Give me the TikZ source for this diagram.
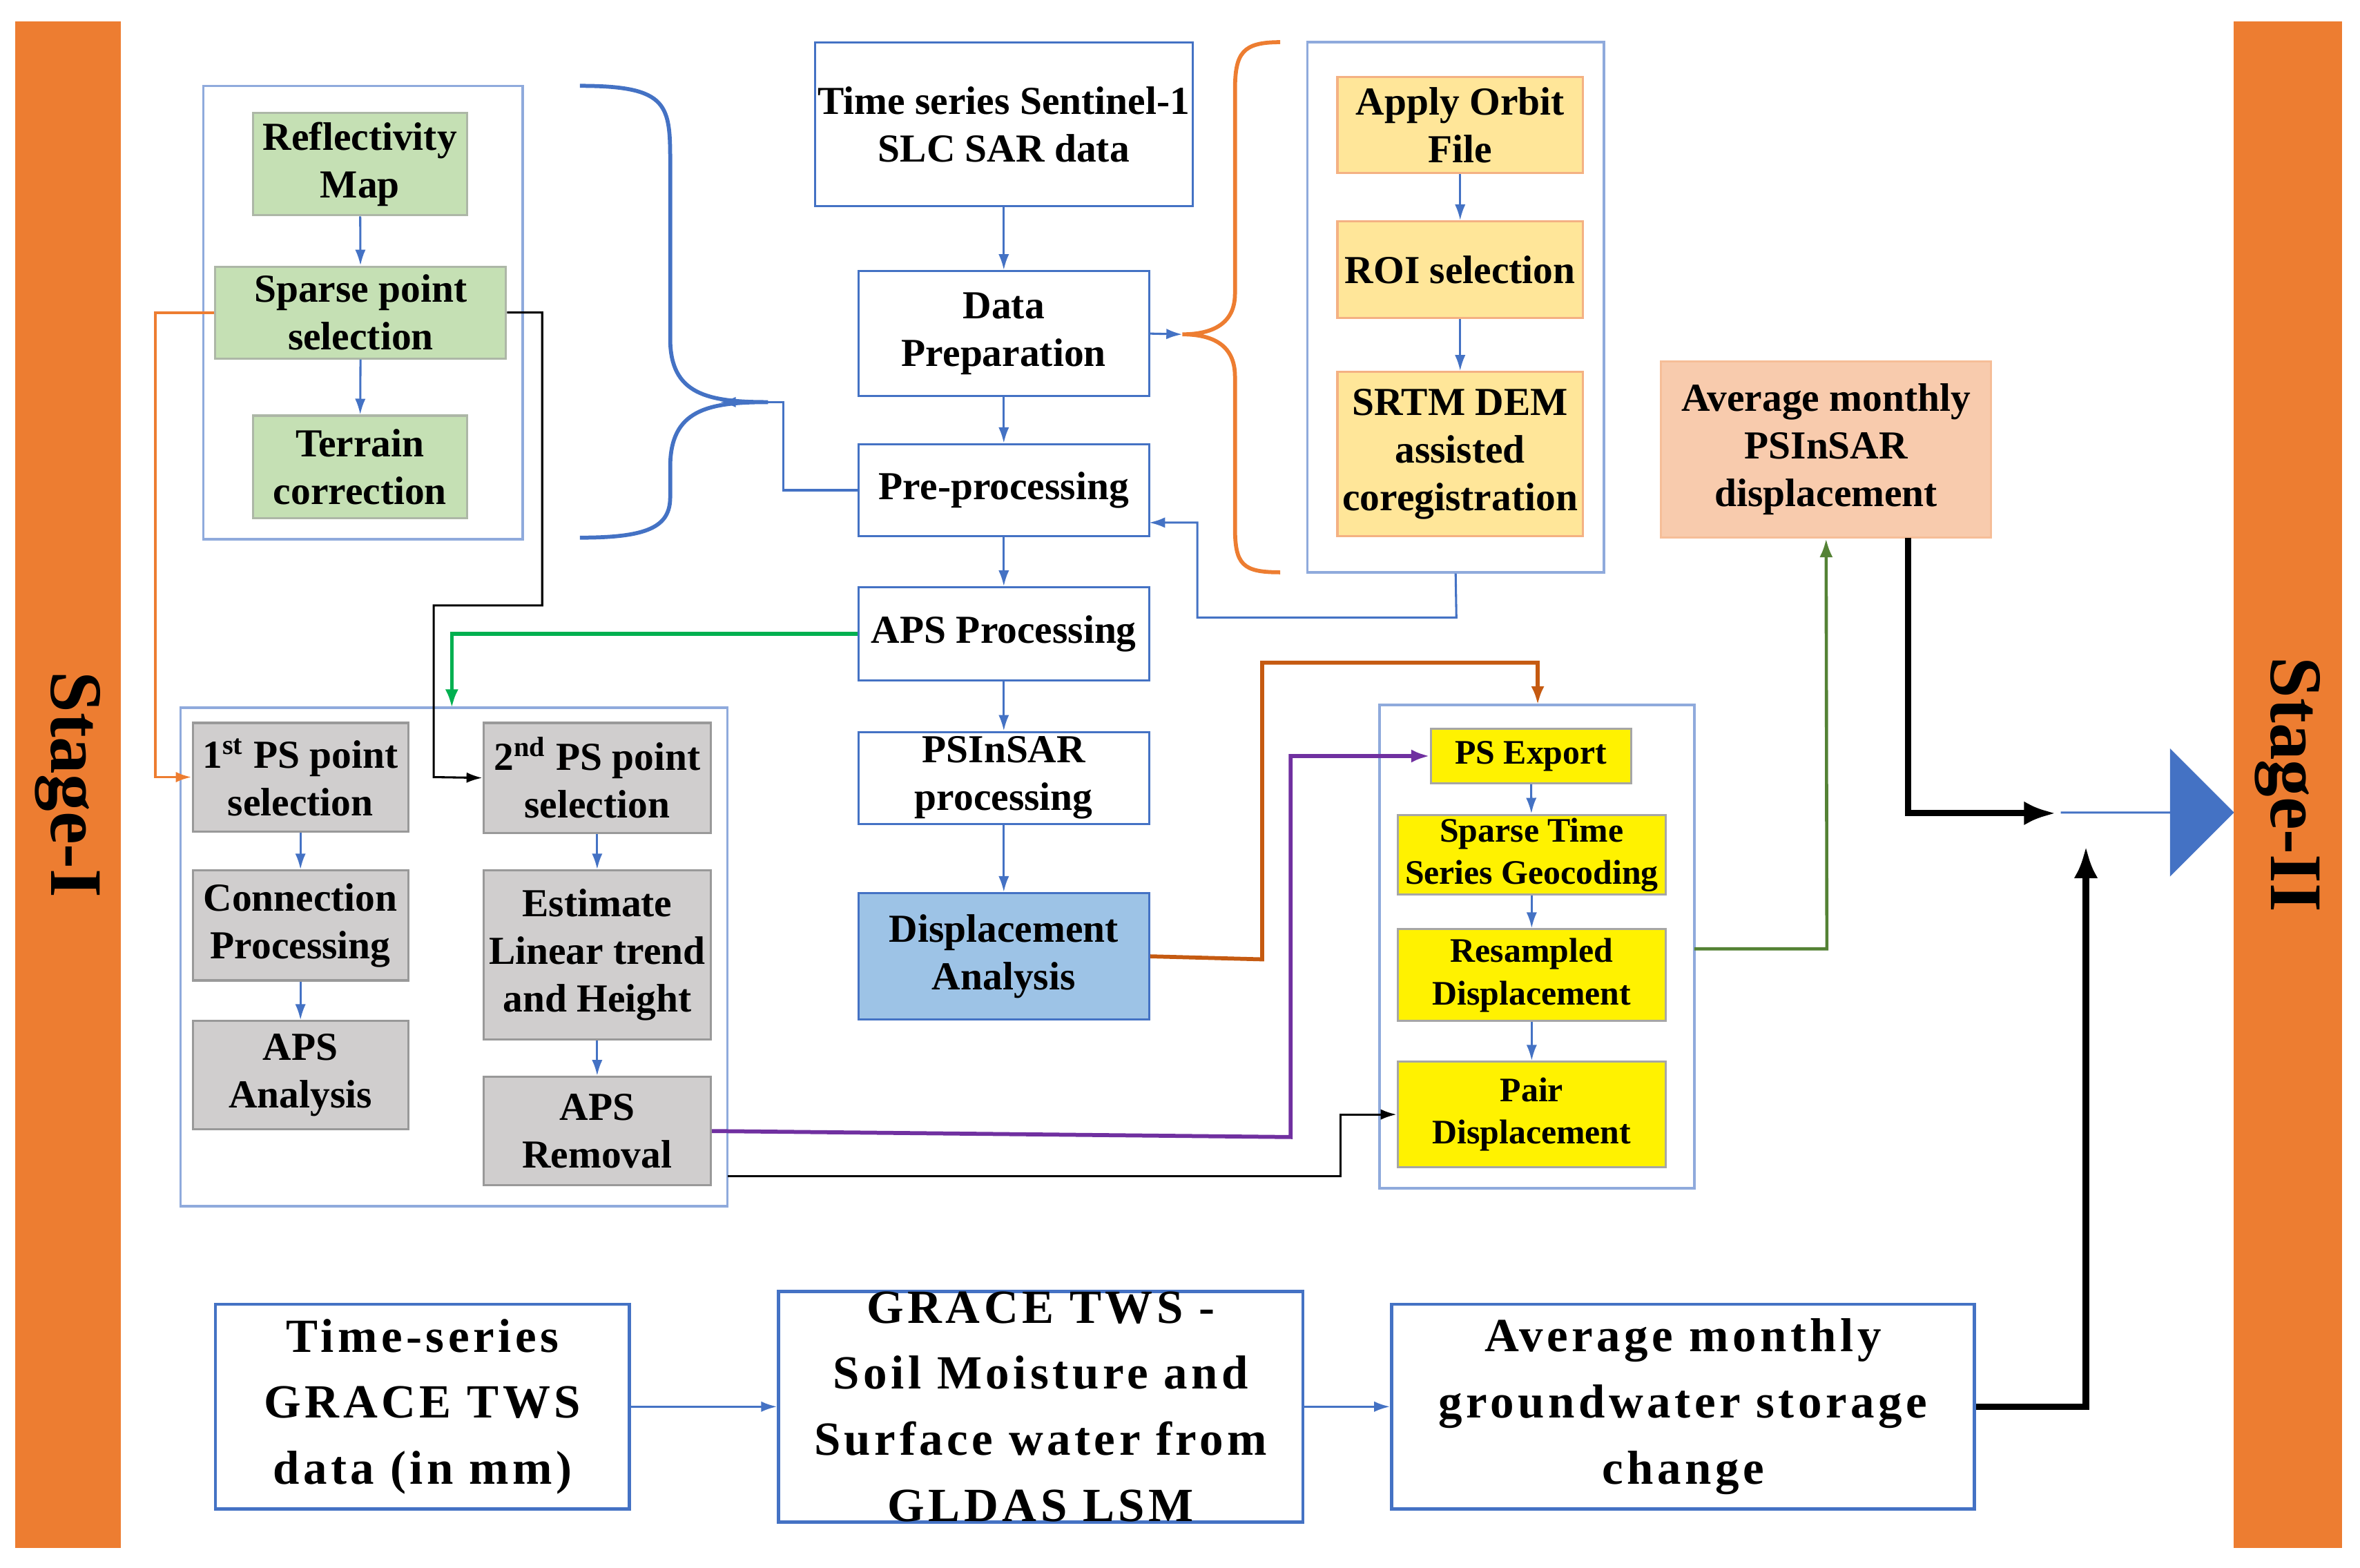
\documentclass[tikz,border=0pt]{standalone}
\usepackage{fontspec}
\setmainfont{Liberation Serif}
\usetikzlibrary{arrows.meta,shapes.arrows}
\definecolor{bl}{HTML}{4472C4}
\definecolor{fr}{HTML}{8FAADC}
\definecolor{org}{HTML}{ED7D31}
\definecolor{gr}{HTML}{C5E0B4}
\definecolor{yo}{HTML}{FFE699}
\definecolor{gy}{HTML}{D0CECE}
\definecolor{sal}{HTML}{F8CBAD}
\definecolor{lb}{HTML}{9DC3E6}
\definecolor{dor}{HTML}{C55A11}
\definecolor{pur}{HTML}{7030A0}
\definecolor{dg}{HTML}{548235}
\definecolor{gg}{HTML}{00B050}
\tikzset{
 box/.style={draw=bl,line width=0.8pt,align=center,font=\bfseries\fontsize{15}{18}\selectfont,inner sep=0pt},
 frame/.style={draw=fr,line width=0.9pt},
 sm/.style={font=\bfseries\fontsize{13}{16}\selectfont},
 big/.style={draw=bl,line width=1.2pt,align=center,inner sep=0pt,font=\bfseries\fontsize{18}{25}\selectfont\addfontfeatures{LetterSpace=8}},
 ar/.style={-{Latex[length=6pt,width=4pt]},bl,line width=0.8pt},
 thk/.style={-{Latex[length=12pt,width=9pt]},black,line width=2.4pt},
}
\newcommand{\bx}[6]{\node[box,#6,minimum width={(#3-#1)*0.02cm},minimum height={(#4-#2)*0.02cm}] (#5) at ({(#1+#3)/2},{(#2+#4)/2}) {};}
\begin{document}
\begin{tikzpicture}[x=0.02cm,y=-0.02cm]
\useasboundingbox (0,0) rectangle (1567,1041);
% stage bars
\fill[org] (10,14) rectangle (80,1028);
\fill[org] (1483,14) rectangle (1555,1028);
\node[rotate=-90,font=\bfseries\fontsize{28}{30}\selectfont] (s1) at (45,521) {Stage-I};
\node[rotate=-90,font=\bfseries\fontsize{28}{30}\selectfont] (s2) at (1519,521) {Stage-II};
% frames
\node[frame,minimum width={212*0.02cm},minimum height={301*0.02cm},inner sep=0] (g1) at (241,207.5) {};
\node[frame,minimum width={197*0.02cm},minimum height={352*0.02cm},inner sep=0] (g0) at (966.5,204) {};
\node[frame,minimum width={363*0.02cm},minimum height={331*0.02cm},inner sep=0] (g2) at (301.5,635.5) {};
\node[frame,minimum width={209*0.02cm},minimum height={321*0.02cm},inner sep=0] (g3) at (1020.5,628.5) {};
% group1
\node[box,fill=gr,draw=gr!60!black!60,minimum width={142*0.02cm},minimum height={68*0.02cm}] (rm) at (239,109) {Reflectivity\\Map};
\node[box,fill=gr,draw=gr!60!black!60,minimum width={193*0.02cm},minimum height={61*0.02cm}] (sp) at (239.5,207.5) {Sparse point\\selection};
\node[box,fill=gr,draw=gr!60!black!60,minimum width={142*0.02cm},minimum height={68*0.02cm}] (tc) at (239,310) {Terrain\\correction};
\draw[ar] (rm) -- (sp); \draw[ar] (sp) -- (tc);
% center
\node[box,minimum width={251*0.02cm},minimum height={109*0.02cm}] (ts) at (666.5,82.5) {Time series Sentinel-1\\SLC SAR data};
\node[box,minimum width={193*0.02cm},minimum height={83*0.02cm}] (dp) at (666.5,221.5) {Data\\Preparation};
\node[box,minimum width={193*0.02cm},minimum height={61*0.02cm}] (pp) at (666.5,325.5) {Pre-processing};
\node[box,minimum width={193*0.02cm},minimum height={62*0.02cm}] (aps) at (666.5,421) {APS Processing};
\node[box,minimum width={193*0.02cm},minimum height={61*0.02cm}] (psi) at (666.5,516.5) {PSInSAR\\processing};
\node[box,fill=lb,minimum width={193*0.02cm},minimum height={84*0.02cm}] (da) at (666.5,635) {Displacement\\Analysis};
\draw[ar] (ts) -- (dp); \draw[ar] (dp) -- (pp); \draw[ar] (pp) -- (aps); \draw[ar] (aps) -- (psi); \draw[ar] (psi) -- (da);
% orange group
\node[box,fill=yo,draw=org!60,minimum width={163*0.02cm},minimum height={64*0.02cm}] (ao) at (969.5,83) {Apply Orbit\\File};
\node[box,fill=yo,draw=org!60,minimum width={163*0.02cm},minimum height={64*0.02cm}] (roi) at (969.5,179) {ROI selection};
\node[box,fill=yo,draw=org!60,minimum width={163*0.02cm},minimum height={109*0.02cm}] (srtm) at (969.5,301.5) {SRTM DEM\\assisted\\coregistration};
\draw[ar] (ao) -- (roi); \draw[ar] (roi) -- (srtm);
% braces
\draw[bl,line width=1.5pt] (385,57) .. controls (445,57) and (445,70) .. (445,110) -- (445,225) .. controls (445,262) and (470,267) .. (510,267) .. controls (470,267) and (445,272) .. (445,310) -- (445,330) .. controls (445,350) and (430,357) .. (385,357);
\draw[org,line width=1.5pt] (850,28) .. controls (825,28) and (820,35) .. (820,60) -- (820,195) .. controls (820,215) and (805,222) .. (785,222) .. controls (805,222) and (820,229) .. (820,250) -- (820,350) .. controls (820,375) and (825,380) .. (850,380);
\coordinate (bt) at (478,267);
\coordinate (ot) at (785,222);
\draw[ar] (dp.east) -- (ot);
\draw[ar] (pp.west) -- (520,325.5) -- (520,267) -- (bt);
\draw[ar] (g0.south) -- (967,410) -- (795,410) -- (795,347) -- (763,347);
% avg psinsar
\node[box,fill=sal,draw=org!50,minimum width={219*0.02cm},minimum height={117*0.02cm}] (avp) at (1212.5,298.5) {Average monthly\\PSInSAR\\displacement};
% group2
\tikzset{gb/.style={box,fill=gy,draw=gray!80}}
\node[gb,minimum width={143*0.02cm},minimum height={72*0.02cm}] (p1) at (199.5,516) {1\textsuperscript{st} PS point\\selection};
\node[gb,minimum width={143*0.02cm},minimum height={73*0.02cm}] (cp) at (199.5,614.5) {Connection\\Processing};
\node[gb,minimum width={143*0.02cm},minimum height={72*0.02cm}] (apa) at (199.5,714) {APS\\Analysis};
\node[gb,minimum width={151*0.02cm},minimum height={73*0.02cm}] (p2) at (396.5,516.5) {2\textsuperscript{nd} PS point\\selection};
\node[gb,minimum width={151*0.02cm},minimum height={112*0.02cm}] (el) at (396.5,634) {Estimate\\Linear trend\\and Height};
\node[gb,minimum width={151*0.02cm},minimum height={72*0.02cm}] (ar) at (396.5,751) {APS\\Removal};
\draw[ar] (p1) -- (cp); \draw[ar] (cp) -- (apa); \draw[ar] (p2) -- (el); \draw[ar] (el) -- (ar);
% group3
\tikzset{yb/.style={box,sm,fill=yellow,draw=gray!70}}
\node[yb,minimum width={133*0.02cm},minimum height={36*0.02cm}] (pe) at (1016.5,502) {PS Export};
\node[yb,minimum width={178*0.02cm},minimum height={53*0.02cm}] (st) at (1017,567.5) {Sparse Time\\Series Geocoding};
\node[yb,minimum width={178*0.02cm},minimum height={61*0.02cm}] (rd) at (1017,647.5) {Resampled\\Displacement};
\node[yb,minimum width={178*0.02cm},minimum height={70*0.02cm}] (pd) at (1017,740) {Pair\\Displacement};
\draw[ar] (pe) -- (st); \draw[ar] (st) -- (rd); \draw[ar] (rd) -- (pd);
% connectors
\draw[-{Latex[length=6pt,width=4pt]},org,line width=1pt] (sp.west) -- (103,207.5) -- (103,516) -- (p1.west);
\draw[-{Latex[length=6pt,width=4pt]},black,line width=0.8pt] (sp.east) -- (360,207.5) -- (360,402) -- (288,402) -- (288,516) -- (p2.west);
\draw[-{Latex[length=7pt,width=5pt]},gg,line width=1.5pt] (aps.west) -- (300,421) -- (300,470);
\draw[-{Latex[length=7pt,width=5pt]},dor,line width=1.5pt] (da.east) -- (838,637) -- (838,440) -- (1021,440) -- (1021,468);
\draw[-{Latex[length=7pt,width=5pt]},pur,line width=1.5pt] (ar.east) -- (857,755) -- (857,502) -- (pe.west);
\draw[-{Latex[length=6pt,width=4pt]},black,line width=0.8pt] (483,781) -- (890,781) -- (890,740) -- (pd.west);
\draw[-{Latex[length=7pt,width=5pt]},dg,line width=1.2pt] (1125,630) -- (1213,630) -- (avp.south);
% big arrow
\node[single arrow,fill=bl,minimum height={115*0.02cm},minimum width={85*0.02cm},single arrow head extend={0.42cm},inner sep=0] (ba) at (1425.5,539.5) {};
\draw[thk] (1267,357) -- (1267,540) -- (1365,540);
% bottom
\node[big,minimum width={275*0.02cm},minimum height={136*0.02cm}] (b1) at (280.5,934) {Time-series\\GRACE TWS\\data (in mm)};
\node[big,minimum width={348*0.02cm},minimum height={136*0.02cm}] (b2) at (691,934) {GRACE TWS -\\Soil Moisture and\\Surface water from\\GLDAS LSM};
\node[big,minimum width={387*0.02cm},minimum height={136*0.02cm}] (b3) at (1117.5,934) {Average monthly\\groundwater storage\\change};
\draw[ar] (b1) -- (b2); \draw[ar] (b2) -- (b3);
\draw[thk] (b3.east) -- (1385,934) -- (1385,562);
\end{tikzpicture}
\end{document}
